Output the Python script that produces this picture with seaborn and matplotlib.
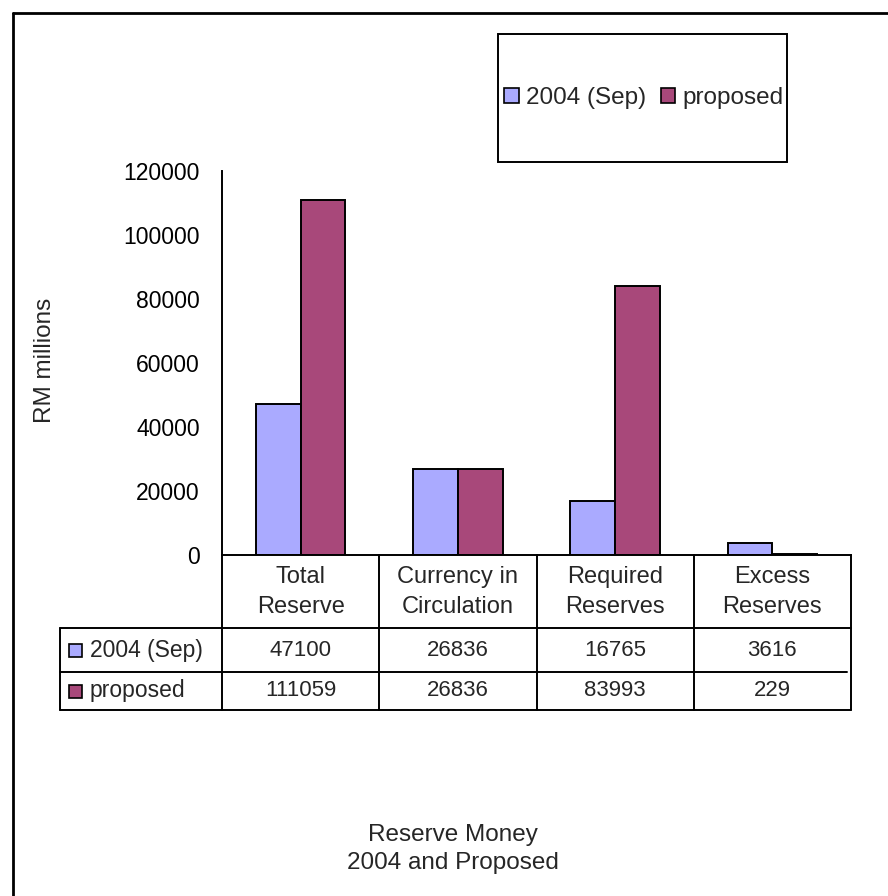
import matplotlib
matplotlib.use("Agg")
import matplotlib.pyplot as plt
from matplotlib.lines import Line2D
from matplotlib.patches import Rectangle, Patch
from matplotlib.transforms import blended_transform_factory
import pandas as pd
import seaborn as sns

# Reserve money components, RM millions
categories = ["Total\nReserve", "Currency in\nCirculation", "Required\nReserves", "Excess\nReserves"]
series = ["2004 (Sep)", "proposed"]
sep2004 = [47100, 26836, 16765, 3616]
proposed = [111059, 26836, 83993, 229]
yticks = [0, 20000, 40000, 60000, 80000, 100000, 120000]
colors = ["#AAAAFF", "#A8487A"]

sns.set_style("white")
plt.rcParams["font.family"] = ["Liberation Sans", "DejaVu Sans"]

df = pd.DataFrame({
    "category": categories * 2,
    "series": [series[0]] * len(categories) + [series[1]] * len(categories),
    "value": sep2004 + proposed,
})

W, H = 888, 896
def fx(px):
    return px / W
def fy(py):
    return 1 - py / H

fig = plt.figure(figsize=(W / 100, H / 100), dpi=100)
fig.patch.set_facecolor("white")
ax = fig.add_axes([fx(222), fy(555), (851 - 222) / W, (555 - 171) / H])

sns.barplot(data=df, x="category", y="value", hue="series", order=categories,
            hue_order=series, palette=colors, saturation=1, width=0.57, gap=0,
            edgecolor="black", linewidth=1.4, legend=False, ax=ax)

ax.set_xlim(-0.5, len(categories) - 0.5)
ax.set_ylim(yticks[0], yticks[-1])
ax.set_yticks(yticks)
ax.set_yticklabels([str(v) for v in yticks])
ax.set_xlabel("")
ax.set_ylabel("")
for side in ("top", "right"):
    ax.spines[side].set_visible(False)
for side in ("left", "bottom"):
    ax.spines[side].set_linewidth(1.4)
    ax.spines[side].set_color("black")
    ax.spines[side].set_zorder(5)
ax.tick_params(axis="y", direction="out", length=6, width=1.4, pad=10,
               labelsize=16.5, colors="black")
ax.tick_params(axis="x", length=0, labelbottom=False)

# y-axis title
fig.text(fx(45), fy(360), "RM millions", rotation=90, ha="center", va="center",
         fontsize=17.5)

# data table below the plot
lw = 1.4
trans = blended_transform_factory(ax.transData, fig.transFigure)
for b in [i - 0.5 for i in range(len(categories) + 1)]:
    fig.add_artist(Line2D([b, b], [fy(555), fy(710)], transform=trans,
                          color="black", lw=lw, clip_on=False))
for y0, x1 in [(628, 851), (672, 847), (710, 851)]:
    fig.add_artist(Line2D([fx(60), fx(x1)], [fy(y0), fy(y0)], color="black", lw=lw))
fig.add_artist(Line2D([fx(60), fx(60)], [fy(628), fy(710)], color="black", lw=lw))

for i, cat in enumerate(categories):
    fig.text(i, fy(592), cat, transform=trans, ha="center", va="center",
             fontsize=17, linespacing=1.45)

row_y = [650, 691]
for name, vals, col, ry in zip(series, [sep2004, proposed], colors, row_y):
    fig.add_artist(Rectangle((fx(69), fy(ry + 7)), 13 / W, 13 / H,
                             facecolor=col, edgecolor="black", lw=1.2,
                             transform=fig.transFigure))
    fig.text(fx(90), fy(ry), name, ha="left", va="center", fontsize=16.5)
    for i, v in enumerate(vals):
        fig.text(i, fy(ry), str(v), transform=trans, ha="center", va="center",
                 fontsize=16)

# legend box
fig.add_artist(Rectangle((fx(498), fy(162)), (787 - 498) / W, (162 - 34) / H,
                         facecolor="none", edgecolor="black", lw=lw,
                         transform=fig.transFigure))
handles = [Patch(facecolor=c, edgecolor="black", linewidth=1.2) for c in colors]
fig.legend(handles, series, ncol=2, loc="center",
           bbox_to_anchor=(fx(644), fy(98)), bbox_transform=fig.transFigure,
           frameon=False, handlelength=0.6, handleheight=0.6,
           handletextpad=0.3, columnspacing=0.6, fontsize=17.5,
           borderpad=0, borderaxespad=0)

# chart title at the bottom
fig.text(fx(453), fy(849), "Reserve Money\n2004 and Proposed", ha="center",
         va="center", fontsize=17.5, linespacing=1.3)

# outer chart border
fig.add_artist(Line2D([fx(13), fx(13)], [fy(13), 0], color="black", lw=2))
fig.add_artist(Line2D([fx(13), 1], [fy(13), fy(13)], color="black", lw=2))

fig.savefig("out.png", dpi=100, facecolor="white")
